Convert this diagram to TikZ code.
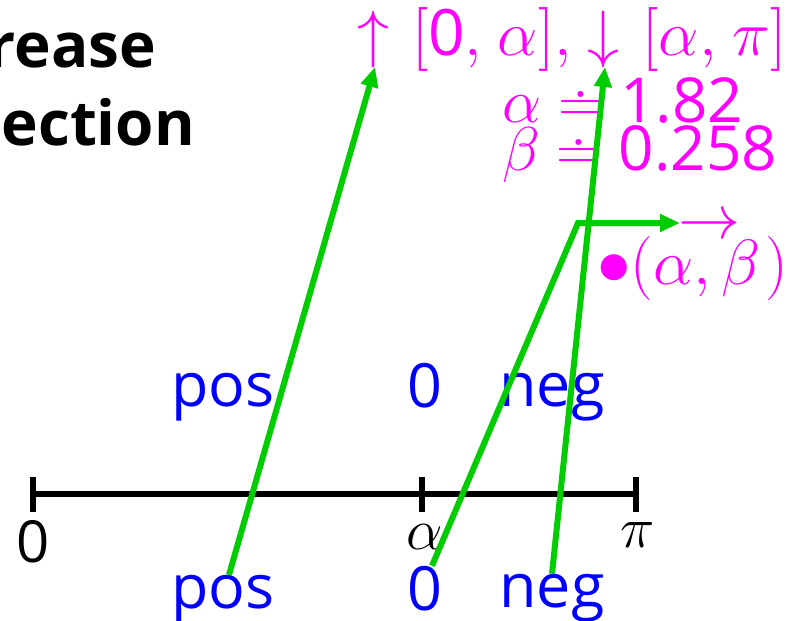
\RequirePackage{fix-cm}
\documentclass[tikz,border=0pt]{standalone}
\usepackage{fontspec}
\setmainfont{Open Sans}
\usetikzlibrary{arrows.meta}
\definecolor{grn}{RGB}{0,204,0}
\definecolor{mag}{RGB}{255,0,255}
\definecolor{blu}{RGB}{0,0,255}
\newcommand{\sd}[1]{\mbox{#1}}
\newcommand{\xg}{\mkern1.5mu}
\begin{document}
\begin{tikzpicture}[x=1pt,y=-1pt,
  every node/.style={inner sep=0pt, outer sep=0pt},
  ttl/.style={font=\fontsize{62}{62}\selectfont\bfseries},
  lbl/.style={font=\fontsize{61}{61}\selectfont, text=blu},
  mg/.style={font=\fontsize{62}{62}\selectfont, text=mag},
  mgi/.style={font=\fontsize{64}{64}\selectfont, text=mag},
  axl/.style={font=\fontsize{58}{58}\selectfont},
  ga/.style={draw=grn, line width=6pt, -{Triangle[length=20pt,width=17pt]}},
  axisline/.style={line width=6pt}]
\useasboundingbox (0,0) rectangle (798,621);
% title fragments
\node[ttl, anchor=base east] (t1) at (156,67) {rease};
\node[ttl, anchor=base east] (t2) at (195,145) {ection};
% blue labels
\node[lbl, anchor=base] (z0) at (-14,406) {0};
\node[lbl, anchor=base] (posA) at (223,406) {pos};
\node[lbl, anchor=base] (zA) at (425,407) {0};
\node[lbl, anchor=base] (negA) at (552,406) {neg};
\node[lbl, anchor=base] (posB) at (223,608) {pos};
\node[lbl, anchor=base] (zB) at (425,610) {0};
\node[lbl, anchor=base] (negB) at (552,607) {neg};
% axis
\coordinate (a0) at (33,494);
\coordinate (aA) at (422,494);
\coordinate (aP) at (636,494);
\draw[axisline] (a0) -- (aP);
\foreach \c in {a0,aA,aP} \draw[axisline] ([yshift=17pt]\c) -- ([yshift=-18pt]\c);
\node[axl, anchor=base] (l0) at (33,562) {0};
\node[axl, anchor=base] (lA) at (425,549) {$\alpha$};
\node[axl, anchor=base] (lP) at (638,547) {$\pi$};
% magenta texts
\node[mgi, anchor=base west] (ints) at (357,55)
  {$\uparrow\xg[\sd{0},\xg\alpha],\xg\downarrow\xg[\alpha,\xg\pi]$};
\node[mg, anchor=base west] (va) at (502,122) {$\alpha\doteq\sd{1.82}$};
\node[mg, anchor=base west] (vb) at (502,170) {$\beta\doteq\sd{0.258}$};
\node[mg, anchor=base west] (arr) at (678,238) {$\rightarrow$};
\node[mgi, anchor=base west] (pt) at (597,284)
  {\scalebox{1.05}{$\bullet$}$(\alpha,\beta\xg)$};
% green connectors
\coordinate (tU) at (375,67);
\coordinate (tD) at (605,67);
\coordinate (cr) at (578,223);
\coordinate (tR) at (680,223);
\draw[ga] ([xshift=6pt]posB.north) -- (tU);
\draw[ga] ([xshift=7pt]zB.north) -- (cr) -- (tR);
\draw[ga] (negB.north) -- (tD);
\end{tikzpicture}
\end{document}
